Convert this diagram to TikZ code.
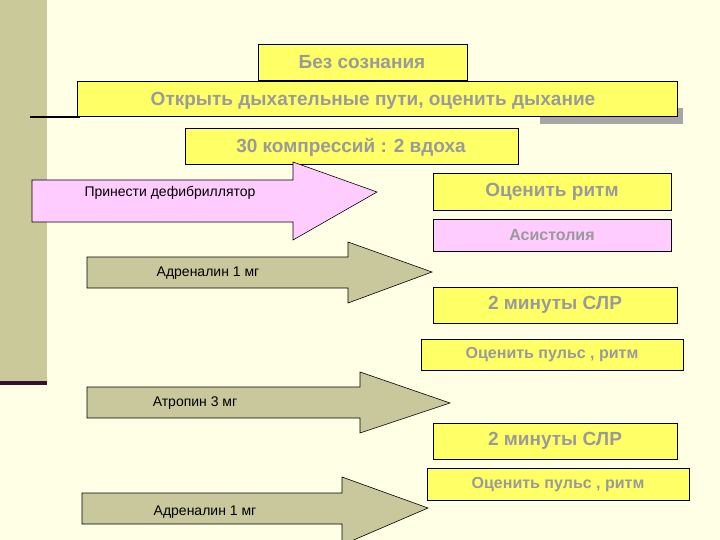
\documentclass[tikz,border=0pt]{standalone}
\usepackage{fontspec}
\setmainfont{Liberation Sans}
\definecolor{bg}{HTML}{FFFFE6}
\definecolor{band}{HTML}{C9C99A}
\definecolor{ybox}{HTML}{FFFF66}
\definecolor{pbox}{HTML}{FFCCFF}
\definecolor{gtext}{HTML}{9A9A9A}
\definecolor{olive}{HTML}{C8C89C}
\definecolor{dpurple}{HTML}{3A1030}
\begin{document}
\begin{tikzpicture}[x=1pt,y=-1pt,
  boxy/.style={draw=black,line width=0.8pt,fill=ybox},
  boxp/.style={draw=black,line width=0.8pt,fill=pbox},
  btext/.style={text=gtext,font=\bfseries\fontsize{19}{21}\selectfont},
  stext/.style={text=gtext,font=\bfseries\fontsize{16}{18}\selectfont},
  atext/.style={text=black,font=\fontsize{14}{16}\selectfont},
  arrowshape/.style={draw=black,line width=0.6pt}]
\fill[bg] (0,0) rectangle (720,540);
\useasboundingbox (0,0) rectangle (720,540);
\fill[band] (0,0) rectangle (47,383);
\fill[dpurple] (0,381) rectangle (47,385);
\draw[line width=1.2pt] (30,117) -- (80,117);
\fill[gray!70] (540,108) rectangle (683,124);
% boxes
\draw[boxy] (258,44) rectangle (467,80);
\node[btext] (t1) at (362,62) {Без сознания};
\draw[boxy] (77,81) rectangle (677,116);
\node[btext] (t2) at (373,101) {Открыть дыхательные пути, оценить дыхание};
\draw[boxy] (185,128) rectangle (518,164);
\node[btext] (t3) at (351,147) {30 компрессий : 2 вдоха};
\draw[boxy] (433,173) rectangle (671,210);
\node[btext] (t4) at (552,192) {Оценить ритм};
\draw[boxp] (433,219) rectangle (671,251);
\node[stext] (t5) at (552,235) {Асистолия};
\draw[boxy] (433,287) rectangle (677,323);
\node[btext] (t6) at (555,305) {2 минуты СЛР};
\draw[boxy] (421,339) rectangle (683,370);
\node[stext] (t7) at (552,355) {Оценить пульс , ритм};
\draw[boxy] (433,423) rectangle (677,459);
\node[btext] (t8) at (555,441) {2 минуты СЛР};
\draw[boxy] (427,468) rectangle (689,500);
\node[stext] (t9) at (558,485) {Оценить пульс , ритм};
% arrows
\draw[arrowshape,fill=pbox] (32,180) -- (293,180) -- (293,162) -- (377,192) -- (293,240) -- (293,222) -- (32,222) -- cycle;
\node[atext] (a1) at (170,193) {Принести дефибриллятор};
\draw[arrowshape,fill=olive] (87,257) -- (348,257) -- (348,242) -- (432,272) -- (348,303) -- (348,288) -- (87,288) -- cycle;
\node[atext] (a2) at (208,273) {Адреналин 1 мг};
\draw[arrowshape,fill=olive] (87,387) -- (360,387) -- (360,372) -- (450,403) -- (360,433) -- (360,418) -- (87,418) -- cycle;
\node[atext] (a3) at (195,403) {Атропин 3 мг};
\draw[arrowshape,fill=olive] (82,493) -- (342,493) -- (342,477) -- (428,508) -- (342,545) -- (342,524) -- (82,524) -- cycle;
\node[atext] (a4) at (205,512) {Адреналин 1 мг};
\end{tikzpicture}
\end{document}
